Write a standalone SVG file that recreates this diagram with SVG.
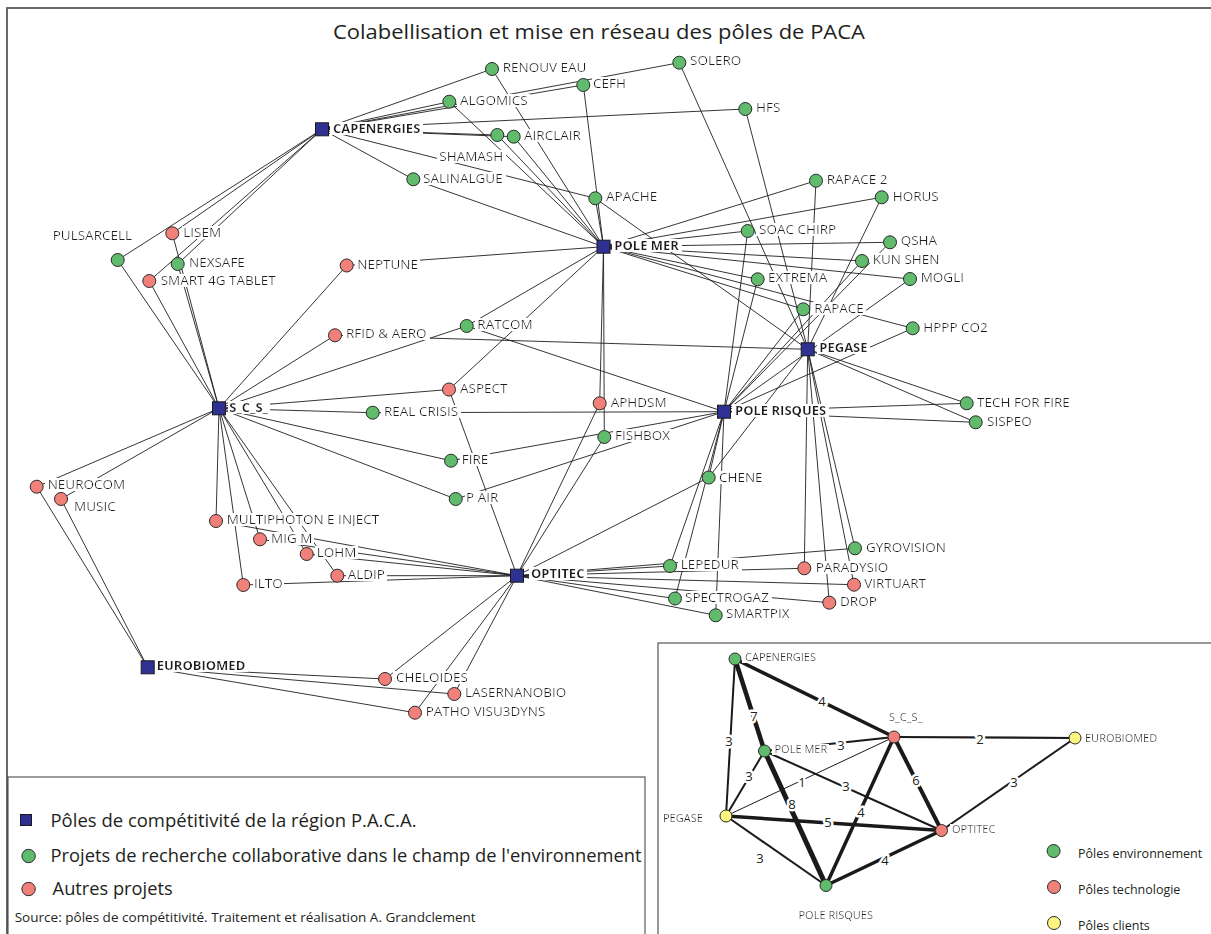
<svg xmlns="http://www.w3.org/2000/svg" width="1211" height="934" viewBox="0 0 1211 934">
<defs>
<filter id="bg" x="-0.03" y="0.2" width="1.06" height="0.68">
<feFlood flood-color="#fff"/>
<feComposite in="SourceGraphic" operator="over"/>
</filter>
</defs>
<style>
.e line{stroke:#1e1e1e;stroke-width:0.9}
.lb{font-family:"Open Sans",sans-serif;font-size:13.5px;fill:#231f20;filter:url(#bg)}
.hb{font-weight:bold;font-size:13px}
.g{fill:#60bb6c;stroke:#2a2a2a;stroke-width:1}
.r{fill:#f1807a;stroke:#2a2a2a;stroke-width:1}
.y{fill:#fff67f;stroke:#2a2a2a;stroke-width:1}
.h{fill:#2e3192;stroke:#1a1a1a;stroke-width:1}
.ie line{stroke:#1a1a1a}
.il{font-family:"Open Sans",sans-serif;font-size:11px;fill:#231f20}
.ilb{filter:url(#bg)}
.wl{font-family:"Open Sans",sans-serif;font-size:13px;fill:#231f20;text-anchor:middle;stroke:#fff;stroke-width:5;paint-order:stroke;stroke-linejoin:round}
.lg{font-family:"Open Sans",sans-serif;font-size:18px;fill:#231f20}
</style>
<rect width="1211" height="934" fill="#fff"/>
<rect x="7" y="8" width="1220" height="940" fill="none" stroke="#595959" stroke-width="1.8"/>
<text x="599" y="38.5" text-anchor="middle" textLength="532" lengthAdjust="spacingAndGlyphs" style="font-family:'Open Sans',sans-serif;font-size:20px;fill:#231f20">Colabellisation et mise en réseau des pôles de PACA</text>

<g id="connectors" class="e">
<!-- CAPENERGIES -->
<line x1="322" y1="129.3" x2="492" y2="69"/>
<line x1="322" y1="129.3" x2="583.3" y2="85"/>
<line x1="322" y1="129.3" x2="679.3" y2="62.7"/>
<line x1="322" y1="129.3" x2="449.3" y2="101.7"/>
<line x1="322" y1="129.3" x2="745.3" y2="109"/>
<line x1="322" y1="129.3" x2="497.3" y2="135"/>
<line x1="322" y1="129.3" x2="513.7" y2="136.7"/>
<line x1="322" y1="129.3" x2="595.3" y2="198.3"/>
<line x1="322" y1="129.3" x2="413.3" y2="179.3"/>
<line x1="322" y1="129.3" x2="117.7" y2="260"/>
<line x1="322" y1="129.3" x2="172.3" y2="233.3"/>
<line x1="322" y1="129.3" x2="177.7" y2="264"/>
<line x1="322" y1="129.3" x2="149.3" y2="281"/>
<!-- POLE MER -->
<line x1="603.5" y1="246.7" x2="492" y2="69"/>
<line x1="603.5" y1="246.7" x2="583.3" y2="85"/>
<line x1="603.5" y1="246.7" x2="449.3" y2="101.7"/>
<line x1="603.5" y1="246.7" x2="497.3" y2="135"/>
<line x1="603.5" y1="246.7" x2="513.7" y2="136.7"/>
<line x1="603.5" y1="246.7" x2="413.3" y2="179.3"/>
<line x1="603.5" y1="246.7" x2="595.3" y2="198.3"/>
<line x1="603.5" y1="246.7" x2="346.7" y2="265.5"/>
<line x1="603.5" y1="246.7" x2="466.7" y2="326"/>
<line x1="603.5" y1="246.7" x2="449" y2="389.5"/>
<line x1="603.5" y1="246.7" x2="599.7" y2="403.3"/>
<line x1="603.5" y1="246.7" x2="604.3" y2="437"/>
<line x1="603.5" y1="246.7" x2="816" y2="180.7"/>
<line x1="603.5" y1="246.7" x2="881.7" y2="197.3"/>
<line x1="603.5" y1="246.7" x2="747.7" y2="231"/>
<line x1="603.5" y1="246.7" x2="890" y2="242.3"/>
<line x1="603.5" y1="246.7" x2="862" y2="261"/>
<line x1="603.5" y1="246.7" x2="910" y2="279"/>
<line x1="603.5" y1="246.7" x2="757.7" y2="279.3"/>
<line x1="603.5" y1="246.7" x2="803.3" y2="309.3"/>
<line x1="603.5" y1="246.7" x2="912.7" y2="328.3"/>
<!-- PEGASE -->
<line x1="807.7" y1="349.3" x2="679.3" y2="62.7"/>
<line x1="807.7" y1="349.3" x2="745.3" y2="109"/>
<line x1="807.7" y1="349.3" x2="595.3" y2="198.3"/>
<line x1="807.7" y1="349.3" x2="816" y2="180.7"/>
<line x1="807.7" y1="349.3" x2="881.7" y2="197.3"/>
<line x1="807.7" y1="349.3" x2="335" y2="335.3"/>
<line x1="807.7" y1="349.3" x2="708.7" y2="477.5"/>
<line x1="807.7" y1="349.3" x2="966.7" y2="403.3"/>
<line x1="807.7" y1="349.3" x2="975.7" y2="422.3"/>
<line x1="807.7" y1="349.3" x2="804.3" y2="568.3"/>
<line x1="807.7" y1="349.3" x2="829.3" y2="602.7"/>
<line x1="807.7" y1="349.3" x2="855" y2="548.3"/>
<line x1="807.7" y1="349.3" x2="854" y2="584.7"/>
<!-- POLE RISQUES -->
<line x1="724" y1="411.7" x2="747.7" y2="231"/>
<line x1="724" y1="411.7" x2="890" y2="242.3"/>
<line x1="724" y1="411.7" x2="862" y2="261"/>
<line x1="724" y1="411.7" x2="910" y2="279"/>
<line x1="724" y1="411.7" x2="757.7" y2="279.3"/>
<line x1="724" y1="411.7" x2="803.3" y2="309.3"/>
<line x1="724" y1="411.7" x2="912.7" y2="328.3"/>
<line x1="724" y1="411.7" x2="466.7" y2="326"/>
<line x1="724" y1="411.7" x2="372.7" y2="412.7"/>
<line x1="724" y1="411.7" x2="451" y2="460.7"/>
<line x1="724" y1="411.7" x2="455.7" y2="499"/>
<line x1="724" y1="411.7" x2="708.7" y2="477.5"/>
<line x1="724" y1="411.7" x2="966.7" y2="403.3"/>
<line x1="724" y1="411.7" x2="975.7" y2="422.3"/>
<line x1="724" y1="411.7" x2="670" y2="566"/>
<line x1="724" y1="411.7" x2="675" y2="598.5"/>
<line x1="724" y1="411.7" x2="715.7" y2="615.3"/>
<!-- S_C_S_ -->
<line x1="219" y1="408.3" x2="117.7" y2="260"/>
<line x1="219" y1="408.3" x2="172.3" y2="233.3"/>
<line x1="219" y1="408.3" x2="177.7" y2="264"/>
<line x1="219" y1="408.3" x2="149.3" y2="281"/>
<line x1="219" y1="408.3" x2="346.7" y2="265.5"/>
<line x1="219" y1="408.3" x2="335" y2="335.3"/>
<line x1="219" y1="408.3" x2="466.7" y2="326"/>
<line x1="219" y1="408.3" x2="449" y2="389.5"/>
<line x1="219" y1="408.3" x2="372.7" y2="412.7"/>
<line x1="219" y1="408.3" x2="451" y2="460.7"/>
<line x1="219" y1="408.3" x2="455.7" y2="499"/>
<line x1="219" y1="408.3" x2="216" y2="521"/>
<line x1="219" y1="408.3" x2="260" y2="539.3"/>
<line x1="219" y1="408.3" x2="306.7" y2="554"/>
<line x1="219" y1="408.3" x2="337.3" y2="575.7"/>
<line x1="219" y1="408.3" x2="243.3" y2="585"/>
<line x1="219" y1="408.3" x2="36.7" y2="486.7"/>
<line x1="219" y1="408.3" x2="61" y2="499"/>
<!-- OPTITEC -->
<line x1="517" y1="575.7" x2="449" y2="389.5"/>
<line x1="517" y1="575.7" x2="599.7" y2="403.3"/>
<line x1="517" y1="575.7" x2="604.3" y2="437"/>
<line x1="517" y1="575.7" x2="708.7" y2="477.5"/>
<line x1="517" y1="575.7" x2="670" y2="566"/>
<line x1="517" y1="575.7" x2="675" y2="598.5"/>
<line x1="517" y1="575.7" x2="715.7" y2="615.3"/>
<line x1="517" y1="575.7" x2="855" y2="548.3"/>
<line x1="517" y1="575.7" x2="804.3" y2="568.3"/>
<line x1="517" y1="575.7" x2="854" y2="584.7"/>
<line x1="517" y1="575.7" x2="829.3" y2="602.7"/>
<line x1="517" y1="575.7" x2="216" y2="521"/>
<line x1="517" y1="575.7" x2="260" y2="539.3"/>
<line x1="517" y1="575.7" x2="306.7" y2="554"/>
<line x1="517" y1="575.7" x2="337.3" y2="575.7"/>
<line x1="517" y1="575.7" x2="243.3" y2="585"/>
<line x1="517" y1="575.7" x2="385" y2="679"/>
<line x1="517" y1="575.7" x2="454.3" y2="694"/>
<line x1="517" y1="575.7" x2="415" y2="712.7"/>
<!-- EUROBIOMED -->
<line x1="147.7" y1="667.3" x2="36.7" y2="486.7"/>
<line x1="147.7" y1="667.3" x2="61" y2="499"/>
<line x1="147.7" y1="667.3" x2="385" y2="679"/>
<line x1="147.7" y1="667.3" x2="454.3" y2="694"/>
<line x1="147.7" y1="667.3" x2="415" y2="712.7"/>
</g>

<g id="nodes">
<g id="n-shamash"><text class="lb" x="439.3" y="160.8">SHAMASH</text></g>
<g id="n-renouv-eau"><text class="lb" x="502.7" y="71.5">RENOUV EAU</text><circle class="g" cx="492" cy="69" r="6.5"/></g>
<g id="n-cefh"><text class="lb" x="593" y="87.8">CEFH</text><circle class="g" cx="583.3" cy="85" r="6.5"/></g>
<g id="n-solero"><text class="lb" x="690" y="64.8">SOLERO</text><circle class="g" cx="679.3" cy="62.7" r="6.5"/></g>
<g id="n-algomics"><text class="lb" x="460" y="104.8">ALGOMICS</text><circle class="g" cx="449.3" cy="101.7" r="6.5"/></g>
<g id="n-hfs"><text class="lb" x="756" y="111.8">HFS</text><circle class="g" cx="745.3" cy="109" r="6.5"/></g>
<g id="n-airclair"><text class="lb" x="524" y="139.8">AIRCLAIR</text><circle class="g" cx="497.3" cy="135" r="6.5"/><circle class="g" cx="513.7" cy="136.7" r="6.5"/></g>
<g id="n-salinalgue"><text class="lb" x="423" y="182.5">SALINALGUE</text><circle class="g" cx="413.3" cy="179.3" r="6.5"/></g>
<g id="n-apache"><text class="lb" x="606" y="200.8">APACHE</text><circle class="g" cx="595.3" cy="198.3" r="6.5"/></g>
<g id="n-rapace2"><text class="lb" x="826.7" y="183.8">RAPACE 2</text><circle class="g" cx="816" cy="180.7" r="6.5"/></g>
<g id="n-horus"><text class="lb" x="892.7" y="200.8">HORUS</text><circle class="g" cx="881.7" cy="197.3" r="6.5"/></g>
<g id="n-soac"><text class="lb" x="759" y="233.8">SOAC CHIRP</text><circle class="g" cx="747.7" cy="231" r="6.5"/></g>
<g id="n-qsha"><text class="lb" x="900.7" y="244.8">QSHA</text><circle class="g" cx="890" cy="242.3" r="6.5"/></g>
<g id="n-kunshen"><text class="lb" x="872.7" y="263.8">KUN SHEN</text><circle class="g" cx="862" cy="261" r="6.5"/></g>
<g id="n-mogli"><text class="lb" x="920.7" y="281.5">MOGLI</text><circle class="g" cx="910" cy="279" r="6.5"/></g>
<g id="n-extrema"><text class="lb" x="768" y="281.8">EXTREMA</text><circle class="g" cx="757.7" cy="279.3" r="6.5"/></g>
<g id="n-rapace"><text class="lb" x="814.3" y="313">RAPACE</text><circle class="g" cx="803.3" cy="309.3" r="6.5"/></g>
<g id="n-hppp"><text class="lb" x="923.3" y="331.5">HPPP CO2</text><circle class="g" cx="912.7" cy="328.3" r="6.5"/></g>
<g id="n-techforfire"><text class="lb" x="977" y="406.8">TECH FOR FIRE</text><circle class="g" cx="966.7" cy="403.3" r="6.5"/></g>
<g id="n-sispeo"><text class="lb" x="987" y="425.8">SISPEO</text><circle class="g" cx="975.7" cy="422.3" r="6.5"/></g>
<g id="n-pulsarcell"><text class="lb" x="52.7" y="239.8">PULSARCELL</text><circle class="g" cx="117.7" cy="260" r="6.5"/></g>
<g id="n-lisem"><text class="lb" x="183.3" y="237">LISEM</text><circle class="r" cx="172.3" cy="233.3" r="6.5"/></g>
<g id="n-smart4g"><text class="lb" x="160.7" y="284.8">SMART 4G TABLET</text><circle class="r" cx="149.3" cy="281" r="6.5"/></g>
<g id="n-nexsafe"><text class="lb" x="189" y="266.8">NEXSAFE</text><circle class="g" cx="177.7" cy="264" r="6.5"/></g>
<g id="n-neptune"><text class="lb" x="357.3" y="268.8">NEPTUNE</text><circle class="r" cx="346.7" cy="265.5" r="6.5"/></g>
<g id="n-rfid"><text class="lb" x="346" y="338">RFID &amp; AERO</text><circle class="r" cx="335" cy="335.3" r="6.5"/></g>
<g id="n-ratcom"><text class="lb" x="477.3" y="328.8">RATCOM</text><circle class="g" cx="466.7" cy="326" r="6.5"/></g>
<g id="n-aspect"><text class="lb" x="460" y="393">ASPECT</text><circle class="r" cx="449" cy="389.5" r="6.5"/></g>
<g id="n-realcrisis"><text class="lb" x="384" y="415.8">REAL CRISIS</text><circle class="g" cx="372.7" cy="412.7" r="6.5"/></g>
<g id="n-aphdsm"><text class="lb" x="610.7" y="406.5">APHDSM</text><circle class="r" cx="599.7" cy="403.3" r="6.5"/></g>
<g id="n-fishbox"><text class="lb" x="615" y="439.8">FISHBOX</text><circle class="g" cx="604.3" cy="437" r="6.5"/></g>
<g id="n-fire"><text class="lb" x="461.7" y="464">FIRE</text><circle class="g" cx="451" cy="460.7" r="6.5"/></g>
<g id="n-pair"><text class="lb" x="466" y="501.5">P AIR</text><circle class="g" cx="455.7" cy="499" r="6.5"/></g>
<g id="n-chene"><text class="lb" x="719" y="481.5">CHENE</text><circle class="g" cx="708.7" cy="477.5" r="6.5"/></g>
<g id="n-neurocom"><text class="lb" x="47.7" y="488.8">NEUROCOM</text><circle class="r" cx="36.7" cy="486.7" r="6.5"/></g>
<g id="n-music"><text class="lb" x="74" y="510.5">MUSIC</text><circle class="r" cx="61" cy="499" r="6.5"/></g>
<g id="n-multiphoton"><text class="lb" x="226.7" y="523.8">MULTIPHOTON E INJECT</text><circle class="r" cx="216" cy="521" r="6.5"/></g>
<g id="n-migm"><text class="lb" x="271" y="542.5">MIG M</text><circle class="r" cx="260" cy="539.3" r="6.5"/></g>
<g id="n-lohm"><text class="lb" x="316.7" y="557">LOHM</text><circle class="r" cx="306.7" cy="554" r="6.5"/></g>
<g id="n-aldip"><text class="lb" x="347.7" y="578.8">ALDIP</text><circle class="r" cx="337.3" cy="575.7" r="6.5"/></g>
<g id="n-ilto"><text class="lb" x="254" y="588">ILTO</text><circle class="r" cx="243.3" cy="585" r="6.5"/></g>
<g id="n-gyrovision"><text class="lb" x="866" y="551.5">GYROVISION</text><circle class="g" cx="855" cy="548.3" r="6.5"/></g>
<g id="n-paradysio"><text class="lb" x="815.7" y="572">PARADYSIO</text><circle class="r" cx="804.3" cy="568.3" r="6.5"/></g>
<g id="n-virtuart"><text class="lb" x="864.3" y="587.5">VIRTUART</text><circle class="r" cx="854" cy="584.7" r="6.5"/></g>
<g id="n-drop"><text class="lb" x="840" y="605.5">DROP</text><circle class="r" cx="829.3" cy="602.7" r="6.5"/></g>
<g id="n-lepedur"><text class="lb" x="680.7" y="568.8">LEPEDUR</text><circle class="g" cx="670" cy="566" r="6.5"/></g>
<g id="n-spectrogaz"><text class="lb" x="685" y="601.5">SPECTROGAZ</text><circle class="g" cx="675" cy="598.5" r="6.5"/></g>
<g id="n-smartpix"><text class="lb" x="726" y="618">SMARTPIX</text><circle class="g" cx="715.7" cy="615.3" r="6.5"/></g>
<g id="n-cheloides"><text class="lb" x="396" y="681.5">CHELOIDES</text><circle class="r" cx="385" cy="679" r="6.5"/></g>
<g id="n-lasernanobio"><text class="lb" x="465" y="696.5">LASERNANOBIO</text><circle class="r" cx="454.3" cy="694" r="6.5"/></g>
<g id="n-patho"><text class="lb" x="425.7" y="715.8">PATHO VISU3DYNS</text><circle class="r" cx="415" cy="712.7" r="6.5"/></g>
<!-- hubs -->
<g id="h-capenergies"><text class="lb hb" x="333" y="132.8">CAPENERGIES</text><rect class="h" x="315.5" y="122.8" width="13" height="13"/></g>
<g id="h-polemer"><text class="lb hb" x="614.3" y="249.8">POLE MER</text><rect class="h" x="597" y="240.2" width="13" height="13"/></g>
<g id="h-scs"><text class="lb hb" x="229.3" y="411.5">S_C_S_</text><rect class="h" x="212.5" y="401.8" width="13" height="13"/></g>
<g id="h-pegase"><text class="lb hb" x="819.3" y="352">PEGASE</text><rect class="h" x="801.2" y="342.8" width="13" height="13"/></g>
<g id="h-polerisques"><text class="lb hb" x="735" y="414.8">POLE RISQUES</text><rect class="h" x="717.5" y="405.2" width="13" height="13"/></g>
<g id="h-optitec"><text class="lb hb" x="531" y="577.5">OPTITEC</text><rect class="h" x="510.5" y="569.2" width="13" height="13"/></g>
<g id="h-eurobiomed"><text class="lb hb" x="156.7" y="669.8">EUROBIOMED</text><rect class="h" x="141.2" y="660.8" width="13" height="13"/></g>
</g>

<g id="legend">
<rect x="8" y="777" width="637" height="170" fill="#fff" stroke="#3a3a3a" stroke-width="1"/>
<rect class="h" x="20.5" y="814.5" width="11" height="11"/>
<text class="lg" x="50.5" y="826.5" textLength="366" lengthAdjust="spacingAndGlyphs">Pôles de compétitivité de la région P.A.C.A.</text>
<circle class="g" cx="28.6" cy="856" r="6.7"/>
<text class="lg" x="50.5" y="861.5" textLength="591" lengthAdjust="spacingAndGlyphs">Projets de recherche collaborative dans le champ de l'environnement</text>
<circle class="r" cx="28.6" cy="889" r="6.7"/>
<text class="lg" x="52.6" y="894.5" textLength="120" lengthAdjust="spacingAndGlyphs">Autres projets</text>
<text x="14.7" y="921.5" textLength="461" lengthAdjust="spacingAndGlyphs" style="font-family:'Open Sans',sans-serif;font-size:13px;fill:#231f20">Source: pôles de compétitivité.  Traitement et réalisation A. Grandclement</text>
</g>

<g id="inset">
<rect x="658" y="643" width="600" height="300" fill="#fff" stroke="#555" stroke-width="1.2"/>
<g id="inset-connectors" class="ie">
<line x1="735" y1="659" x2="894" y2="737" stroke-width="3.5"/>
<line x1="735" y1="659" x2="764.5" y2="751" stroke-width="4.5"/>
<line x1="735" y1="659" x2="726" y2="816" stroke-width="2"/>
<line x1="764.5" y1="751" x2="894" y2="737" stroke-width="2"/>
<line x1="894" y1="737" x2="1075" y2="738" stroke-width="2.2"/>
<line x1="764.5" y1="751" x2="726" y2="816" stroke-width="2"/>
<line x1="726" y1="816" x2="894" y2="737" stroke-width="1"/>
<line x1="764.5" y1="751" x2="941.5" y2="830.5" stroke-width="2"/>
<line x1="894" y1="737" x2="941.5" y2="830.5" stroke-width="4"/>
<line x1="941.5" y1="830.5" x2="1075" y2="738" stroke-width="2"/>
<line x1="764.5" y1="751" x2="826" y2="885.5" stroke-width="5"/>
<line x1="894" y1="737" x2="826" y2="885.5" stroke-width="3.5"/>
<line x1="726" y1="816" x2="941.5" y2="830.5" stroke-width="3.5"/>
<line x1="726" y1="816" x2="826" y2="885.5" stroke-width="2"/>
<line x1="826" y1="885.5" x2="941.5" y2="830.5" stroke-width="3.5"/>
</g>
<g id="inset-weights">
<text class="wl" x="822" y="705.7">4</text>
<text class="wl" x="754" y="720.7">7</text>
<text class="wl" x="729" y="745.7">3</text>
<text class="wl" x="841" y="749.7">3</text>
<text class="wl" x="980" y="743.7">2</text>
<text class="wl" x="749" y="780.7">3</text>
<text class="wl" x="802" y="786.7">1</text>
<text class="wl" x="846" y="790.7">3</text>
<text class="wl" x="916" y="784.7">6</text>
<text class="wl" x="1014" y="786.7">3</text>
<text class="wl" x="792" y="808.7">8</text>
<text class="wl" x="861" y="816.7">4</text>
<text class="wl" x="828" y="826.7">5</text>
<text class="wl" x="760" y="862.7">3</text>
<text class="wl" x="885" y="864.7">4</text>
</g>
<g id="i-capenergies"><text class="il ilb" x="745" y="661">CAPENERGIES</text><circle class="g" cx="735" cy="659" r="6"/></g>
<g id="i-scs"><text class="il ilb" x="889" y="721">S_C_S_</text><circle class="r" cx="894" cy="737" r="6"/></g>
<g id="i-eurobiomed"><text class="il ilb" x="1085" y="742">EUROBIOMED</text><circle class="y" cx="1075" cy="738" r="6"/></g>
<g id="i-polemer"><text class="il ilb" x="774.5" y="753">POLE MER</text><circle class="g" cx="764.5" cy="751" r="6"/></g>
<g id="i-pegase"><text class="il ilb" x="663" y="822">PEGASE</text><circle class="y" cx="726" cy="816" r="6"/></g>
<g id="i-optitec"><text class="il ilb" x="952" y="833">OPTITEC</text><circle class="r" cx="941.5" cy="830.5" r="6"/></g>
<g id="i-polerisques"><text class="il ilb" x="798.5" y="919">POLE RISQUES</text><circle class="g" cx="826" cy="885.5" r="6"/></g>
<g id="inset-legend">
<circle class="g" cx="1053.6" cy="851" r="6.5"/>
<text class="il" x="1078" y="857.5" style="font-size:12.5px">Pôles environnement</text>
<circle class="r" cx="1054" cy="887" r="6.5"/>
<text class="il" x="1078" y="893.5" style="font-size:12.5px">Pôles technologie</text>
<circle class="y" cx="1054" cy="923" r="6.5"/>
<text class="il" x="1078" y="929.5" style="font-size:12.5px">Pôles clients</text>
</g>
</g>
</svg>
